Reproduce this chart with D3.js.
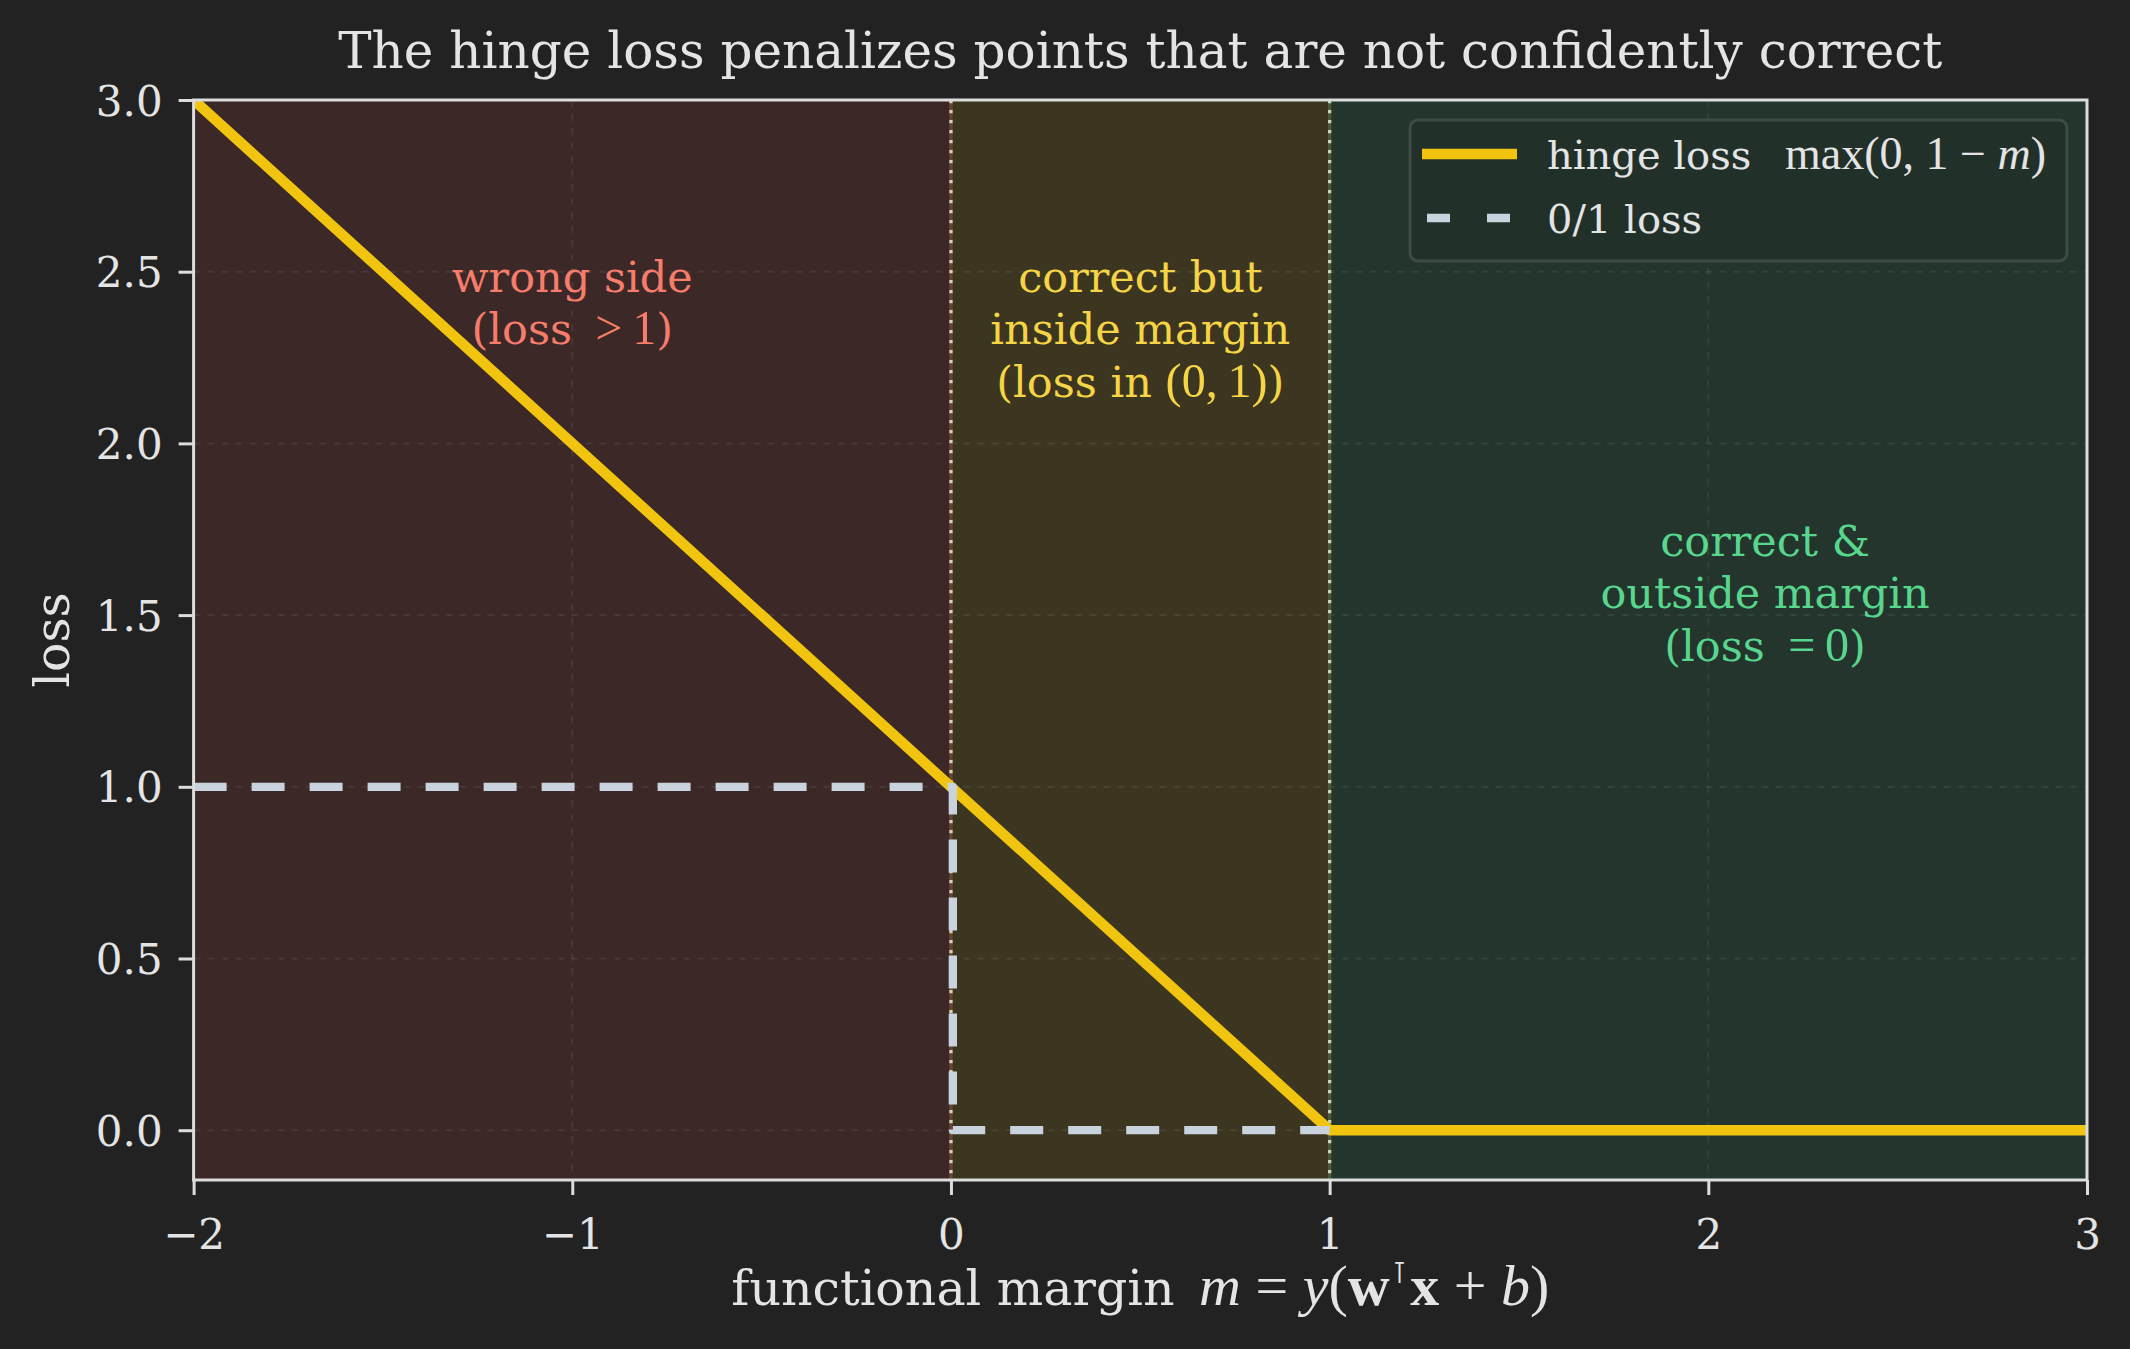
<!DOCTYPE html>
<html>
<head>
<meta charset="utf-8">
<script src="https://cdn.jsdelivr.net/npm/d3@7/dist/d3.min.js"></script>
<style>
  html, body { margin: 0; padding: 0; background: #222222; }
  svg { display: block; }
</style>
</head>
<body>
<svg id="chart" width="2130" height="1349"></svg>
<script>
// ---------------- data ----------------
const xDomain = [-2, 3];
const yDomain = [-0.145, 3.0];
const xTicks = [-2, -1, 0, 1, 2, 3];
const yTicks = [0.0, 0.5, 1.0, 1.5, 2.0, 2.5, 3.0];

// hinge loss max(0, 1 - m) at its breakpoints
const hingeM    = [-2, 1, 3];
const hingeLoss = [ 3, 0, 0];

// 0/1 loss (step just after m = 0)
const zeroOneM    = [-2, 0.005, 0.005, 1];
const zeroOneLoss = [ 1, 1, 0, 0];

// shaded regions of the margin axis
const regionNames = ["wrong", "inside", "outside"];
const regionStart = [-2, 0, 1];
const regionEnd   = [ 0, 1, 3];

// region annotations (data coordinates)
const annotX = [-1.0, 0.5, 2.15];
const annotY = [2.55, 2.55, 1.55];
const annotLines = [
  [[["wrong side", "t"]],
   [["(loss ", "t"], ["\u2009>\u20091", "m"], [")", "t"]]],
  [[["correct but", "t"]],
   [["inside margin", "t"]],
   [["(loss in ", "t"], ["(0,\u20091)", "m"], [")", "t"]]],
  [[["correct &", "t"]],
   [["outside margin", "t"]],
   [["(loss ", "t"], ["\u2009=\u20090", "m"], [")", "t"]]]
];

const titleText = "The hinge loss penalizes points that are not confidently correct";
const legendLabels = ["hinge loss", "0/1 loss"];

// ---------------- styles ----------------
const W = 2130, H = 1349;
const plot = { left: 193.6, right: 2087, top: 100, bottom: 1180 };
const serif = "'DejaVu Serif', serif";
const mathFont = "'Liberation Serif', 'Times New Roman', serif";
const regionFill = { wrong: "#3b2827", inside: "#3c3620", outside: "#23352c" };
const annotColor = ["#f67c6c", "#f5d445", "#58d68d"];
const annotAnchor = ["top", "top", "middle"];
const hingeColor = "#f1c40f";
const zeroOneColor = "#c8d3de";
const textColor = "#e4e4e4";
const spineColor = "#dddddd";

const svg = d3.select("#chart");
svg.append("rect").attr("width", W).attr("height", H).attr("fill", "#222222");

const x = d3.scaleLinear().domain(xDomain).range([plot.left, plot.right]);
const y = d3.scaleLinear().domain(yDomain).range([plot.bottom, plot.top]);

svg.append("defs").append("clipPath").attr("id", "clip")
  .append("rect")
  .attr("x", plot.left).attr("y", plot.top)
  .attr("width", plot.right - plot.left).attr("height", plot.bottom - plot.top);

const g = svg.append("g").attr("clip-path", "url(#clip)");

// regions
const regions = regionNames.map((n, i) => ({ name: n, a: regionStart[i], b: regionEnd[i] }));
g.selectAll("rect.region").data(regions).enter().append("rect")
  .attr("class", "region")
  .attr("x", d => x(d.a)).attr("width", d => x(d.b) - x(d.a))
  .attr("y", plot.top).attr("height", plot.bottom - plot.top)
  .attr("fill", d => regionFill[d.name]);

// grid
g.selectAll("line.hgrid").data(yTicks).enter().append("line")
  .attr("x1", plot.left).attr("x2", plot.right)
  .attr("y1", d => y(d)).attr("y2", d => y(d))
  .attr("stroke", "#ffffff").attr("stroke-opacity", 0.07)
  .attr("stroke-width", 2).attr("stroke-dasharray", "7,7");
g.selectAll("line.vgrid").data(xTicks).enter().append("line")
  .attr("y1", plot.top).attr("y2", plot.bottom)
  .attr("x1", d => x(d)).attr("x2", d => x(d))
  .attr("stroke", "#ffffff").attr("stroke-opacity", 0.07)
  .attr("stroke-width", 2).attr("stroke-dasharray", "7,7");

// boundary lines at region edges
const edgeVals = [regionStart[1], regionStart[2]];
const edgeUnder = ["#6a4630", "#4b5a34"];
const edgeDots = ["#dccfb9", "#cdd4b8"];
edgeVals.forEach((v, i) => {
  g.append("line").attr("x1", x(v)).attr("x2", x(v))
    .attr("y1", plot.top).attr("y2", plot.bottom)
    .attr("stroke", edgeUnder[i]).attr("stroke-width", 3.3);
  g.append("line").attr("x1", x(v)).attr("x2", x(v))
    .attr("y1", plot.top).attr("y2", plot.bottom)
    .attr("stroke", edgeDots[i]).attr("stroke-width", 3.3)
    .attr("stroke-dasharray", "3.3,6.7");
});

// lines
const line = d3.line().x(d => x(d[0])).y(d => y(d[1]));
const hingeData = hingeM.map((m, i) => [m, hingeLoss[i]]);
const zeroOneData = zeroOneM.map((m, i) => [m, zeroOneLoss[i]]);

g.append("path").datum(hingeData).attr("d", line)
  .attr("fill", "none").attr("stroke", hingeColor)
  .attr("stroke-width", 10.5).attr("stroke-linejoin", "round");
g.append("path").datum(zeroOneData).attr("d", line)
  .attr("fill", "none").attr("stroke", zeroOneColor)
  .attr("stroke-width", 8.3).attr("stroke-dasharray", "33,25")
  .attr("stroke-linejoin", "round");

// annotations
const annFs = 43, annLh = 52.5;
annotLines.forEach((lines, i) => {
  const px = x(annotX[i]), py = y(annotY[i]);
  let first;
  if (annotAnchor[i] === "top") first = py + 0.87 * annFs;
  else first = py - (lines.length - 1) * annLh / 2 + 0.24 * annFs;
  const t = svg.append("text").attr("text-anchor", "middle")
    .attr("fill", annotColor[i]).attr("font-family", serif).attr("font-size", annFs);
  lines.forEach((parts, li) => {
    const row = t.append("tspan").attr("x", px).attr("y", first + li * annLh);
    parts.forEach(p => {
      const s = row.append("tspan").text(p[0]);
      if (p[1] === "m") s.attr("font-family", mathFont).attr("font-size", annFs * 1.12);
    });
  });
});

// spines
svg.append("rect")
  .attr("x", plot.left).attr("y", plot.top)
  .attr("width", plot.right - plot.left).attr("height", plot.bottom - plot.top)
  .attr("fill", "none").attr("stroke", spineColor).attr("stroke-width", 3);

// axes
const fmtY = d3.format(".1f");
const fmtX = d => (d < 0 ? "\u2212" + Math.abs(d) : String(d));

const yAxis = svg.append("g").attr("transform", `translate(${plot.left},0)`)
  .call(d3.axisLeft(y).tickValues(yTicks).tickFormat(fmtY).tickSize(15).tickPadding(16));
const xAxis = svg.append("g").attr("transform", `translate(0,${plot.bottom})`)
  .call(d3.axisBottom(x).tickValues(xTicks).tickFormat(fmtX).tickSize(15).tickPadding(14));
[yAxis, xAxis].forEach(a => {
  a.select(".domain").remove();
  a.selectAll(".tick line").attr("stroke", spineColor).attr("stroke-width", 3);
  a.selectAll(".tick text").attr("fill", textColor)
    .attr("font-family", serif).attr("font-size", 42);
});
yAxis.selectAll(".tick text").attr("dy", "0.36em");
xAxis.selectAll(".tick text").attr("dy", "0.95em");

// title
svg.append("text").attr("x", (plot.left + plot.right) / 2).attr("y", 68)
  .attr("text-anchor", "middle").attr("fill", textColor)
  .attr("font-family", serif).attr("font-size", 50).text(titleText);

// y label
svg.append("text")
  .attr("transform", `translate(69,${(plot.top + plot.bottom) / 2}) rotate(-90)`)
  .attr("text-anchor", "middle").attr("fill", textColor)
  .attr("font-family", serif).attr("font-size", 49).text("loss");

// x label with math
const xl = svg.append("text").attr("x", (plot.left + plot.right) / 2).attr("y", 1305)
  .attr("text-anchor", "middle").attr("fill", textColor)
  .attr("font-family", serif).attr("font-size", 49);
xl.append("tspan").text("functional margin\u2002");
const mfs = 58;
xl.append("tspan").attr("font-family", mathFont).attr("font-size", mfs).attr("font-style", "italic").text("m");
xl.append("tspan").attr("font-family", mathFont).attr("font-size", mfs).text(" = ");
xl.append("tspan").attr("font-family", mathFont).attr("font-size", mfs).attr("font-style", "italic").text("y");
xl.append("tspan").attr("font-family", mathFont).attr("font-size", mfs).text("(");
xl.append("tspan").attr("font-family", mathFont).attr("font-size", mfs).attr("font-weight", "bold").text("w");
xl.append("tspan").attr("font-family", "'DejaVu Sans', sans-serif").attr("font-size", 30).attr("dx", 2).attr("dy", -22).text("\u22BA");
xl.append("tspan").attr("font-family", mathFont).attr("font-size", mfs).attr("font-weight", "bold").attr("dx", 3).attr("dy", 22).text("x");
xl.append("tspan").attr("font-family", mathFont).attr("font-size", mfs).text(" + ");
xl.append("tspan").attr("font-family", mathFont).attr("font-size", mfs).attr("font-style", "italic").text("b");
xl.append("tspan").attr("font-family", mathFont).attr("font-size", mfs).text(")");

// legend
const lg = svg.append("g");
lg.append("rect").attr("x", 1410).attr("y", 120).attr("width", 657).attr("height", 141)
  .attr("rx", 8).attr("fill", "#22302a").attr("stroke", "#3e4c45").attr("stroke-width", 3);
const legendRows = [
  { color: hingeColor, width: 10.5, dash: null, x1: 1422, x2: 1517, label: legendLabels[0], yy: 154 },
  { color: zeroOneColor, width: 8.3, dash: "23,37", x1: 1427, x2: 1512, label: legendLabels[1], yy: 218 }
];
legendRows.forEach(r => {
  lg.append("line").attr("x1", r.x1).attr("x2", r.x2).attr("y1", r.yy).attr("y2", r.yy)
    .attr("stroke", r.color).attr("stroke-width", r.width)
    .attr("stroke-dasharray", r.dash);
});
const lt1 = lg.append("text").attr("x", 1547).attr("y", 169).attr("fill", textColor)
  .attr("font-family", serif).attr("font-size", 40);
lt1.append("tspan").text(legendLabels[0]);
const lm = lt1.append("tspan").attr("x", 1785).attr("font-family", mathFont).attr("font-size", 46);
lm.append("tspan").text("max(0, 1 \u2212 ");
lm.append("tspan").attr("font-style", "italic").text("m");
lm.append("tspan").text(")");
lg.append("text").attr("x", 1547).attr("y", 233).attr("fill", textColor)
  .attr("font-family", serif).attr("font-size", 40).text(legendLabels[1]);
</script>
</body>
</html>
